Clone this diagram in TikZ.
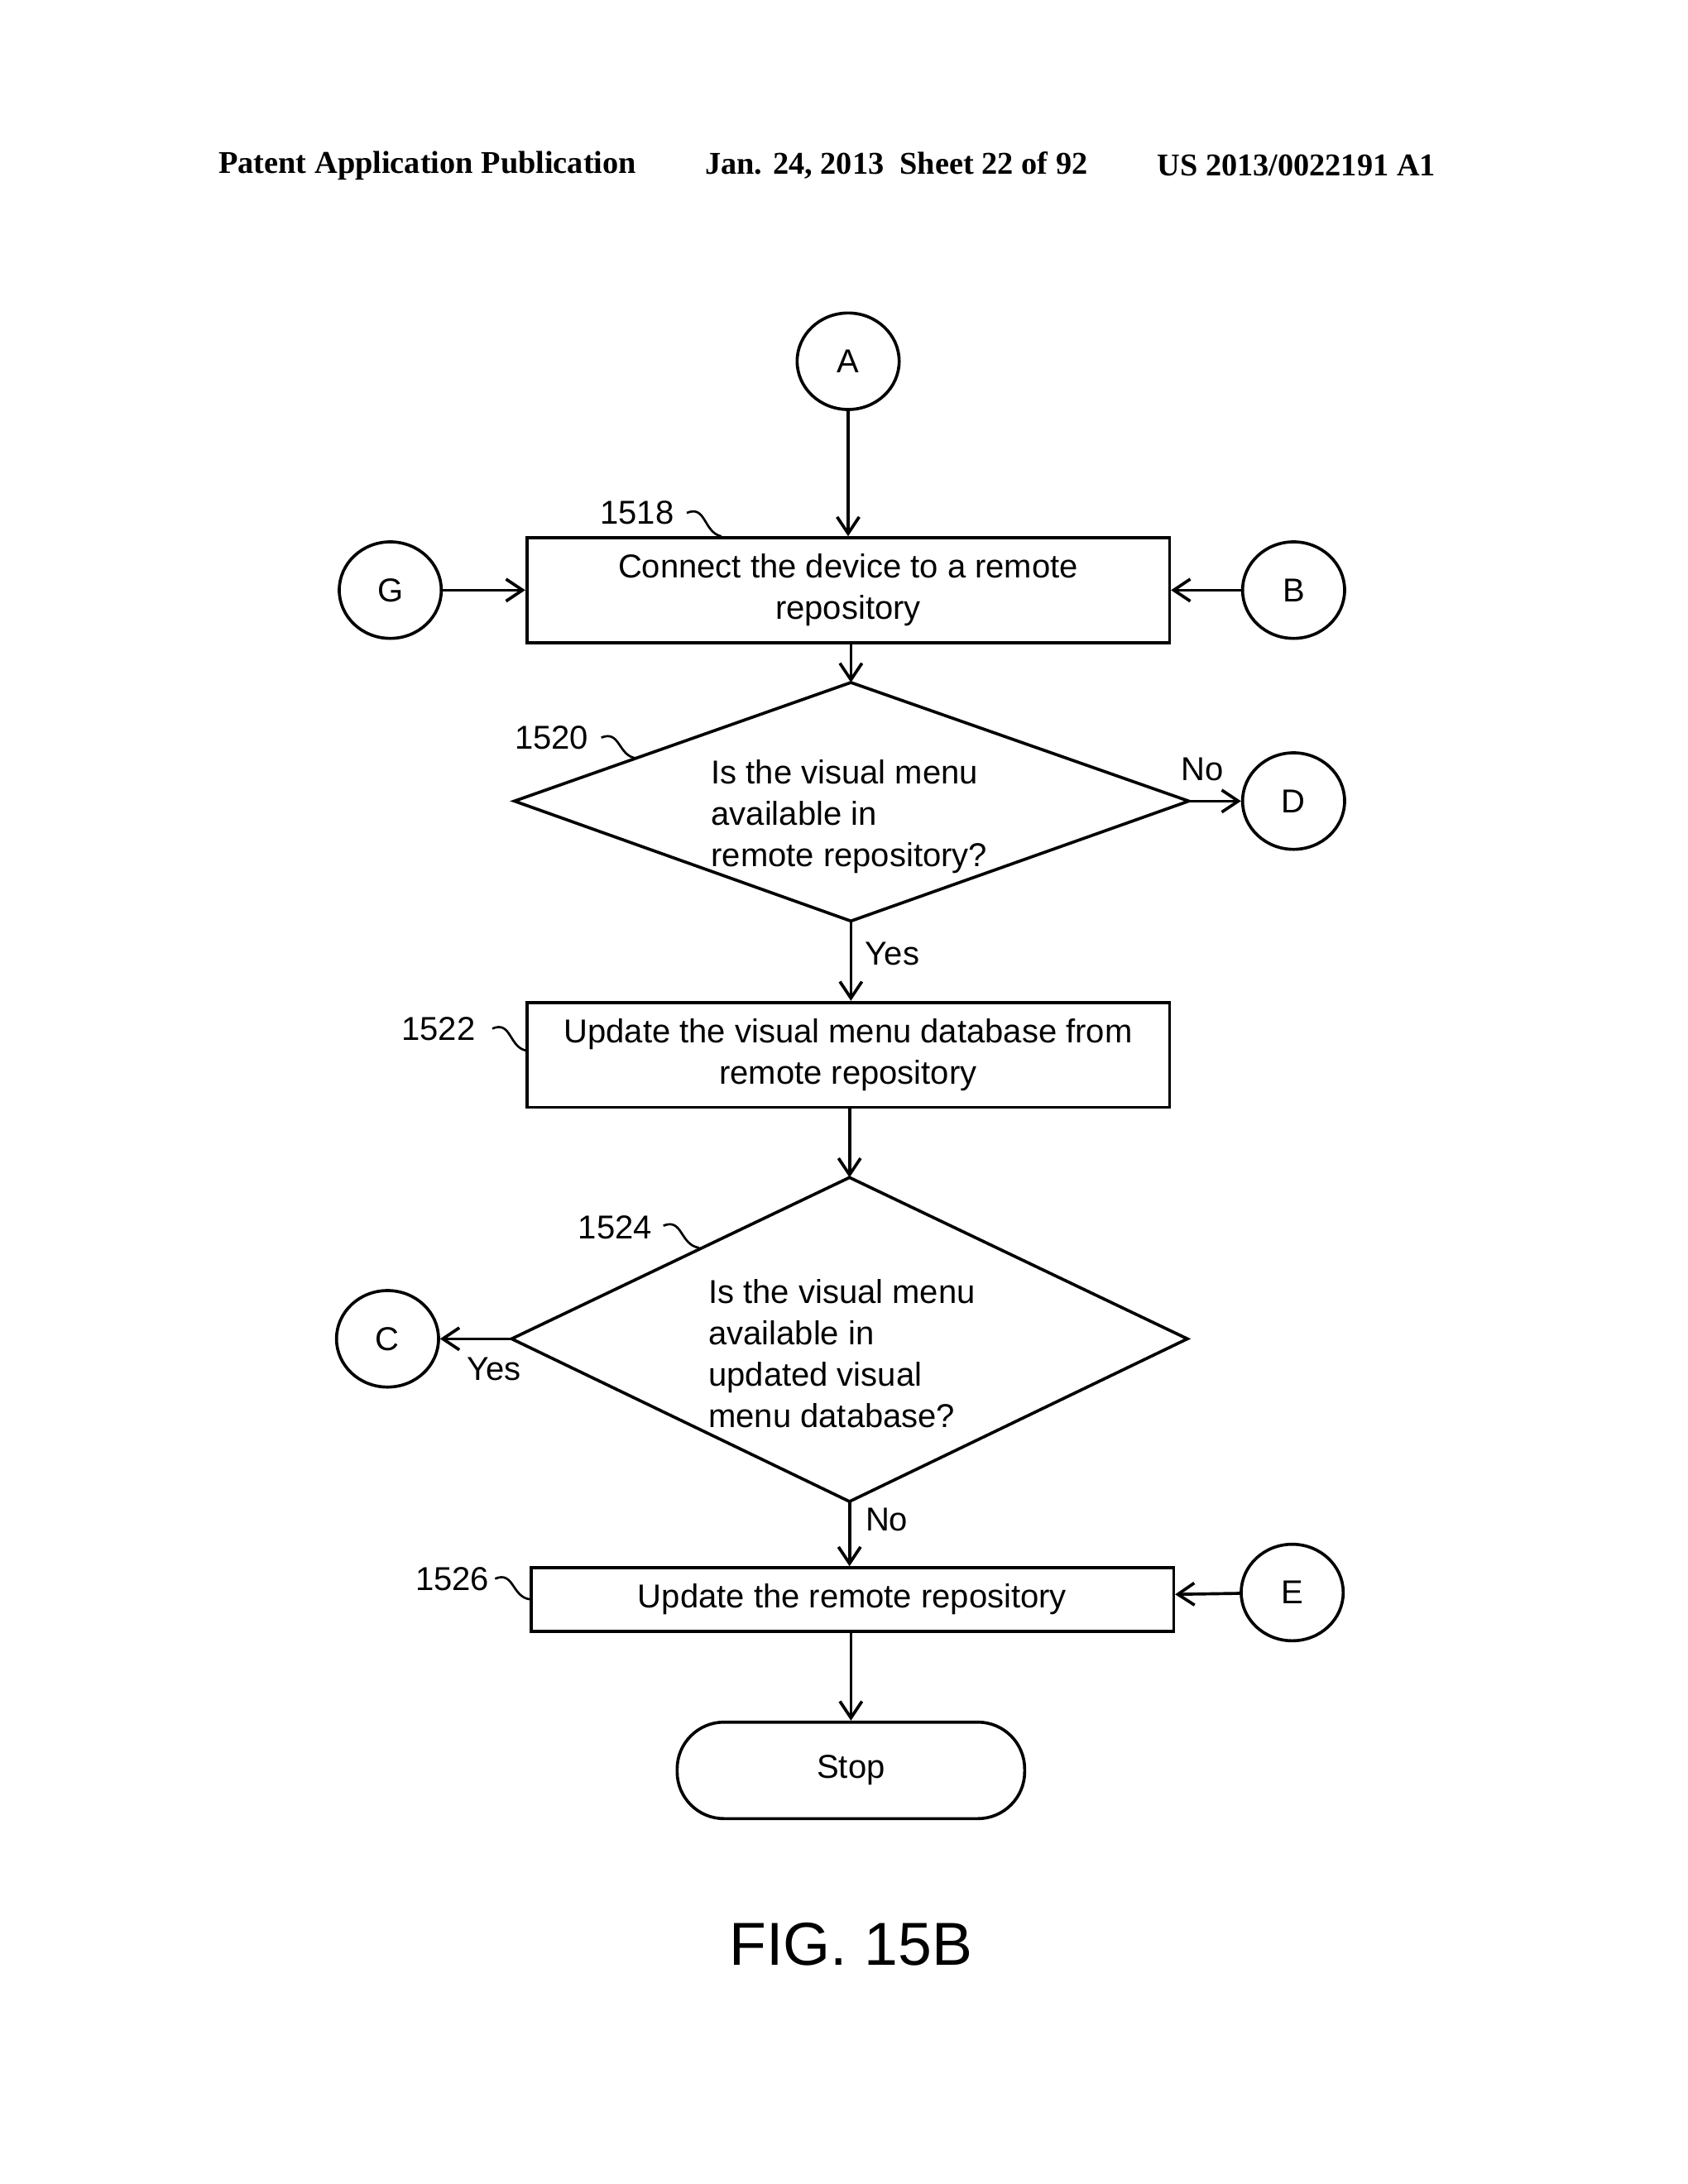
\documentclass[tikz,border=0pt]{standalone}
\usepackage{fontspec}
\setmainfont{Liberation Sans}
\newfontfamily\hdr{Liberation Serif}
\usetikzlibrary{arrows.meta,shapes.geometric}
\begin{document}
\begin{tikzpicture}[x=0.5pt,y=-0.5pt,
  line width=1.1pt,
  every node/.style={font=\fontsize{12}{15}\selectfont},
  box/.style={draw,minimum height=38pt,inner sep=0pt},
  conn/.style={draw,ellipse,minimum width=37pt,minimum height=35pt,inner sep=0pt},
  arr/.style={-{Straight Barb[length=6pt,width=8pt]}},
  lbl/.style={font=\fontsize{12}{14}\selectfont},
  sq/.style={line width=0.8pt}]
\useasboundingbox (0,0) rectangle (1224,1584);
% header
\node[font=\hdr\bfseries\fontsize{11.5}{13}\selectfont] at (310,120) {Patent Application Publication};
\node[font=\hdr\bfseries\fontsize{11.5}{13}\selectfont] at (650,120) {Jan. 24, 2013\enspace Sheet 22 of 92};
\node[font=\hdr\bfseries\fontsize{11.5}{13}\selectfont] at (940,120) {US 2013/0022191 A1};
% connectors
\node[conn] (A) at (615,262) {A};
\node[conn] (G) at (283,428) {G};
\node[conn] (B) at (938,428) {B};
\node[conn] (D) at (938,581) {D};
\node[conn] (C) at (281,971) {C};
\node[conn] (E) at (937,1155) {E};
% boxes
\node[box,minimum width=233pt,align=center] (b1518) at (615,428) {Connect the device to a remote\\repository};
\node[box,minimum width=233pt,align=center] (b1522) at (615,765) {Update the visual menu database from\\remote repository};
\node[box,minimum width=233pt,minimum height=23pt] (b1526) at (618,1160) {Update the remote repository};
\node[draw,rounded corners=17pt,minimum width=126pt,minimum height=35pt] (stop) at (617,1284) {Stop};
% diamond 1520
\coordinate (d1t) at (617,495); \coordinate (d1r) at (862,581);
\coordinate (d1b) at (617,668); \coordinate (d1l) at (373,581);
\draw (d1t) -- (d1r) -- (d1b) -- (d1l) -- cycle;
\node[align=left,anchor=west] (t1520) at (508,592) {Is the visual menu\\available in\\remote repository?};
% diamond 1524
\coordinate (d2t) at (616,854); \coordinate (d2r) at (861,971);
\coordinate (d2b) at (616,1089); \coordinate (d2l) at (371,971);
\draw (d2t) -- (d2r) -- (d2b) -- (d2l) -- cycle;
\node[align=left,anchor=west] (t1524) at (506,982) {Is the visual menu\\available in\\updated visual\\menu database?};
% flow
\draw[arr] (A) -- (b1518.north -| A);
\draw[arr] (G) -- (b1518);
\draw[arr] (B) -- (b1518);
\draw[arr] (b1518.south -| d1t) -- (d1t);
\draw[arr] (d1r) -- (D);
\draw[arr] (d1b) -- (b1522.north -| d1b);
\draw[arr] (b1522.south -| d2t) -- (d2t);
\draw[arr] (d2l) -- (C);
\draw[arr] (d2b) -- (b1526.north -| d2b);
\draw[arr] (E) -- (b1526);
\draw[arr] (b1526.south -| stop) -- (stop);
% branch labels
\node (no1) at (872,558) {No};
\node (yes1) at (647,692) {Yes};
\node (yes2) at (358,993) {Yes};
\node (no2) at (643,1102) {No};
% reference numerals
\node[lbl] (n1518) at (462,372) {1518};
\draw[sq] (498,372) .. controls (512,366) and (510,386) .. (523,389);
\node[lbl] (n1520) at (400,535) {1520};
\draw[sq] (436,535) .. controls (450,529) and (448,549) .. (462,550);
\node[lbl] (n1522) at (318,746) {1522};
\draw[sq] (357,746) .. controls (371,740) and (369,760) .. (382,762);
\node[lbl] (n1524) at (446,890) {1524};
\draw[sq] (481,889) .. controls (495,883) and (493,903) .. (507,905);
\node[lbl] (n1526) at (328,1145) {1526};
\draw[sq] (359,1145) .. controls (373,1139) and (371,1159) .. (385,1160);
% figure caption
\node[font=\fontsize{22}{26}\selectfont] (fig) at (617,1410) {FIG. 15B};
\end{tikzpicture}
\end{document}
